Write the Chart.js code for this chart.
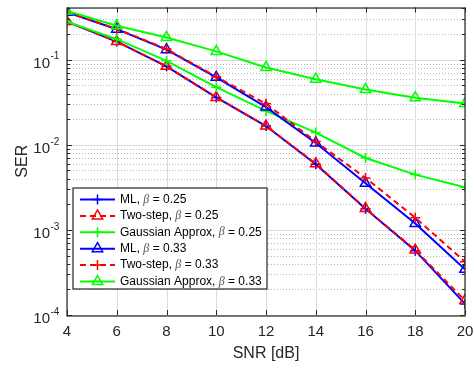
<!DOCTYPE html>
<html>
<head>
<meta charset="utf-8">
<script src="https://cdn.jsdelivr.net/npm/chart.js@4/dist/chart.umd.min.js"></script>
<style>
  html, body { margin: 0; padding: 0; background: #fff; }
  #wrap { width: 474px; height: 369px; }
</style>
</head>
<body>
<div id="wrap"><canvas id="serChart"></canvas></div>
<script>
// -------------------------------
// DATA
// -------------------------------
const snr = [4, 6, 8, 10, 12, 14, 16, 18, 20];
const ml025    = [0.28, 0.163, 0.0835, 0.036, 0.0166, 0.0059, 0.00177, 0.00057, 0.000135];
const two025   = [0.28, 0.163, 0.0835, 0.036, 0.0166, 0.006, 0.00178, 0.00058, 0.000148];
const gauss025 = [0.28, 0.174, 0.097, 0.0475, 0.025, 0.0139, 0.007, 0.00446, 0.00317];
const ml033    = [0.36, 0.228, 0.131, 0.062, 0.0277, 0.0105, 0.00353, 0.00119, 0.000344];
const two033   = [0.36, 0.23, 0.133, 0.063, 0.0303, 0.0109, 0.00408, 0.00139, 0.000423];
const gauss033 = [0.373, 0.25, 0.182, 0.125, 0.081, 0.059, 0.0446, 0.0356, 0.0306];

const methodNames = ['ML', 'Two-step', 'Gaussian Approx', 'ML', 'Two-step', 'Gaussian Approx'];
const betaLabels = ['0.25', '0.25', '0.25', '0.33', '0.33', '0.33'];
const yDecades = [-4, -3, -2, -1];

const FONT = '"Liberation Sans", Arial, Helvetica, sans-serif';
const AX = '#262626';

function series(values, color, style, dashed, idx) {
    return {
        label: methodNames[idx] + ', \u03b2 = ' + betaLabels[idx],
        data: values.map((v, i) => ({ x: snr[i], y: v })),
        borderColor: color,
        backgroundColor: color,
        borderWidth: 2,
        borderDash: dashed ? [6, 4] : [],
        pointStyle: style,
        pointRadius: style === 'triangle' ? 6 : 5,
        pointBorderColor: color,
        pointBackgroundColor: 'rgba(0,0,0,0)',
        pointBorderWidth: 1.5,
        tension: 0,
        order: 6 - idx
    };
}

// grid lines drawn under the data, MATLAB style
const gridPlugin = {
    id: 'matlabGrid',
    beforeDatasetsDraw(chart) {
        const { ctx, chartArea: a, scales: { x, y } } = chart;
        ctx.save();
        ctx.lineWidth = 1;
        // minor dotted
        ctx.strokeStyle = '#b9b9b9';
        ctx.setLineDash([1, 2]);
        yDecades.concat([0]).forEach(e => {
            for (let m = 2; m <= 9; m++) {
                const v = m * Math.pow(10, e);
                if (v < y.min || v > y.max) continue;
                const py = Math.round(y.getPixelForValue(v)) + 0.5;
                ctx.beginPath(); ctx.moveTo(a.left, py); ctx.lineTo(a.right, py); ctx.stroke();
            }
        });
        // major solid
        ctx.setLineDash([]);
        ctx.strokeStyle = '#dcdcdc';
        yDecades.forEach(e => {
            const py = Math.round(y.getPixelForValue(Math.pow(10, e))) + 0.5;
            ctx.beginPath(); ctx.moveTo(a.left, py); ctx.lineTo(a.right, py); ctx.stroke();
        });
        x.ticks.forEach(t => {
            const px = Math.round(x.getPixelForValue(t.value)) + 0.5;
            ctx.beginPath(); ctx.moveTo(px, a.top); ctx.lineTo(px, a.bottom); ctx.stroke();
        });
        ctx.restore();
    },
    afterDatasetsDraw(chart) {
        const { ctx, chartArea: a, scales: { x, y } } = chart;
        ctx.save();
        ctx.strokeStyle = AX;
        ctx.lineWidth = 1.2;
        ctx.strokeRect(Math.round(a.left), Math.round(a.top), Math.round(a.right - a.left), Math.round(a.bottom - a.top));
        ctx.lineWidth = 1;
        const tick = (x1, y1, x2, y2) => { ctx.beginPath(); ctx.moveTo(x1, y1); ctx.lineTo(x2, y2); ctx.stroke(); };
        x.ticks.forEach(t => {
            const px = Math.round(x.getPixelForValue(t.value)) + 0.5;
            tick(px, a.bottom, px, a.bottom - 5);
            tick(px, a.top, px, a.top + 5);
        });
        yDecades.concat([0]).forEach(e => {
            for (let m = 1; m <= 9; m++) {
                const v = m * Math.pow(10, e);
                if (v < y.min || v > y.max) continue;
                const py = Math.round(y.getPixelForValue(v)) + 0.5;
                const len = m === 1 ? 5 : 3;
                tick(a.left, py, a.left + len, py);
                tick(a.right, py, a.right - len, py);
            }
        });
        // y tick labels 10^n
        ctx.fillStyle = AX;
        ctx.textBaseline = 'middle';
        yDecades.forEach(e => {
            const py = y.getPixelForValue(Math.pow(10, e));
            ctx.font = '15px ' + FONT;
            ctx.textAlign = 'right';
            ctx.fillText('10', 50, py + 4);
            ctx.font = '10px ' + FONT;
            ctx.textAlign = 'left';
            ctx.fillText(String(e), 50.5, py - 3);
        });
        ctx.restore();
    }
};

// legend box drawn in the lower left corner of the axes
const legendPlugin = {
    id: 'matlabLegend',
    afterDraw(chart) {
        const { ctx, chartArea: a } = chart;
        const bx = a.left + 6, by = 188, bw = 194, bh = 101;
        const rowH = 16.4, firstRow = by + 11.5;
        ctx.save();
        ctx.fillStyle = '#fff';
        ctx.fillRect(bx, by, bw, bh);
        ctx.strokeStyle = AX;
        ctx.lineWidth = 1.2;
        ctx.strokeRect(bx, by, bw, bh);
        chart.data.datasets.forEach((ds, i) => {
            const ry = firstRow + i * rowH;
            const lx1 = bx + 7, lx2 = bx + 42, mx = (lx1 + lx2) / 2;
            ctx.strokeStyle = ds.borderColor;
            ctx.lineWidth = 2;
            ctx.setLineDash(ds.borderDash);
            ctx.beginPath(); ctx.moveTo(lx1, ry); ctx.lineTo(lx2, ry); ctx.stroke();
            ctx.setLineDash([]);
            ctx.fillStyle = 'rgba(0,0,0,0)';
            ctx.lineWidth = ds.pointBorderWidth;
            Chart.helpers.drawPoint(ctx, {
                pointStyle: ds.pointStyle, radius: ds.pointRadius, rotation: 0,
                borderWidth: ds.pointBorderWidth
            }, mx, ry);
            // text: name, beta (italic serif), value
            let tx = bx + 47;
            ctx.textBaseline = 'middle';
            ctx.textAlign = 'left';
            ctx.fillStyle = '#000';
            ctx.font = '12px ' + FONT;
            const p1 = methodNames[i] + ', ';
            ctx.fillText(p1, tx, ry);
            tx += ctx.measureText(p1).width;
            ctx.font = 'italic 12px "Liberation Serif", "Times New Roman", serif';
            ctx.fillStyle = '#555';
            ctx.fillText('\u03b2', tx, ry);
            tx += ctx.measureText('\u03b2').width;
            ctx.font = '12px ' + FONT;
            ctx.fillStyle = '#000';
            ctx.fillText(' = ' + betaLabels[i], tx, ry);
        });
        ctx.restore();
    }
};

const ctx = document.getElementById('serChart');

new Chart(ctx, {
    type: 'line',
    data: {
        datasets: [
            series(ml025, '#0000ff', 'cross', false, 0),
            series(two025, '#ff0000', 'triangle', true, 1),
            series(gauss025, '#00ff00', 'cross', false, 2),
            series(ml033, '#0000ff', 'triangle', false, 3),
            series(two033, '#ff0000', 'cross', true, 4),
            series(gauss033, '#00ff00', 'triangle', false, 5)
        ]
    },
    options: {
        responsive: true,
        maintainAspectRatio: false,
        animation: false,
        devicePixelRatio: 1,
        layout: { padding: { top: 6, right: 9, left: 0, bottom: 0 } },
        plugins: {
            legend: { display: false },
            tooltip: { enabled: false }
        },
        scales: {
            x: {
                type: 'linear',
                min: 4,
                max: 20,
                afterFit: s => { s.height = 54; s.paddingRight = 0; s.paddingLeft = 0; },
                ticks: {
                    stepSize: 2,
                    padding: 8,
                    color: AX,
                    font: { family: FONT, size: 15 }
                },
                grid: { display: false, drawTicks: false },
                border: { display: false },
                title: {
                    display: true,
                    text: 'SNR [dB]',
                    color: AX,
                    font: { family: FONT, size: 16 },
                    padding: { top: 0, bottom: 6 }
                }
            },
            y: {
                type: 'logarithmic',
                min: 1e-4,
                max: 0.41,
                afterFit: s => { s.width = 67; s.paddingTop = 0; s.paddingBottom = 0; },
                ticks: { display: false },
                grid: { display: false, drawTicks: false },
                border: { display: false },
                title: {
                    display: true,
                    text: 'SER',
                    color: AX,
                    font: { family: FONT, size: 16 },
                    padding: { top: 13, bottom: 0 }
                }
            }
        }
    },
    plugins: [gridPlugin, legendPlugin]
});
</script>
</body>
</html>
